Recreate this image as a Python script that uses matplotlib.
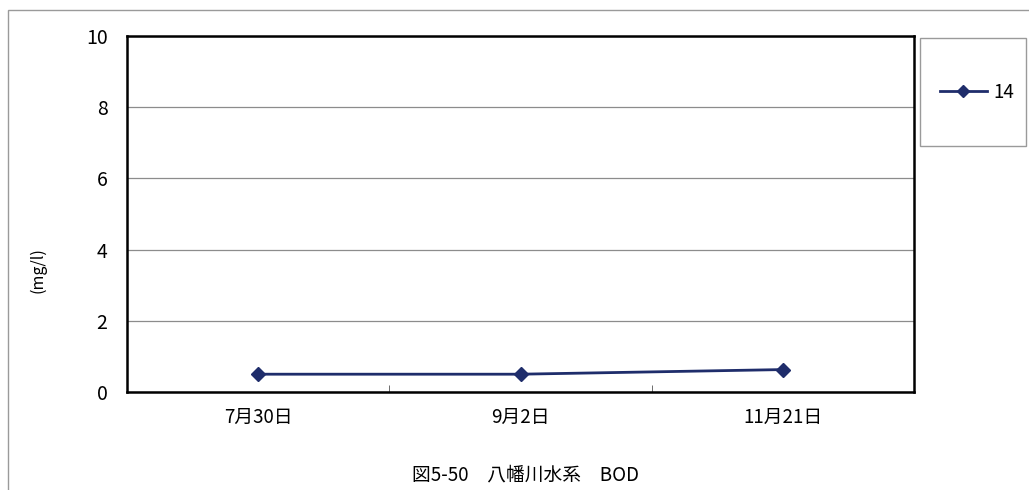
import matplotlib
matplotlib.use("Agg")
import matplotlib.pyplot as plt
from matplotlib.patches import Rectangle

plt.rcParams['font.family'] = ['Noto Sans CJK JP', 'DejaVu Sans']

categories = ["7月30日", "9月2日", "11月21日"]
series_name = "14"
values = [0.5, 0.5, 0.63]
yticks = [0, 2, 4, 6, 8, 10]
title = "図5-50\u3000八幡川水系\u3000BOD"
ylabel = "(mg/l)"

W, H = 1029, 490
fig = plt.figure(figsize=(W / 100, H / 100), dpi=100)
fig.patch.set_facecolor("white")

# outer frame
fig.add_artist(Rectangle((8 / W, -0.1), 1.2, 1 - 10 / H + 0.1, transform=fig.transFigure,
                         fill=False, edgecolor="#9a9a9a", linewidth=1.0))
# legend frame
fig.add_artist(Rectangle((920 / W, 1 - 146 / H), (1026 - 920) / W, 108 / H,
                         transform=fig.transFigure, fill=False,
                         edgecolor="#9a9a9a", linewidth=1.0))

ax = fig.add_axes([127 / W, 1 - 392 / H, (914 - 127) / W, (392 - 36) / H])
x = list(range(len(categories)))
ax.plot(x, values, color="#1f2d6b", linewidth=2, marker="D", markersize=7.5,
        markerfacecolor="#1f2d6b", markeredgecolor="#1f2d6b", label=series_name, zorder=3)

ax.set_xlim(-0.5, len(categories) - 0.5)
ax.set_ylim(0, 10)
ax.set_yticks(yticks)
ax.set_yticklabels([str(v) for v in yticks], fontsize=14)
ax.yaxis.grid(True, color="#8c8c8c", linewidth=0.9)
ax.set_axisbelow(True)
ax.tick_params(axis="y", length=0, pad=14)

ax.set_xticks(x)
ax.set_xticklabels(categories, fontsize=13.5)
ax.tick_params(axis="x", length=0, pad=11)
ax.set_xticks([0.5, 1.5], minor=True)
ax.tick_params(axis="x", which="minor", direction="in", length=5, color="#555555")

for s in ax.spines.values():
    s.set_linewidth(1.8)
    s.set_color("black")

fig.text(38 / W, 1 - 270 / H, ylabel, rotation=90, ha="center", va="center", fontsize=11.5)
fig.text(525 / W, 1 - 475 / H, title, ha="center", va="center", fontsize=13.5)

leg = fig.legend(loc="center left", bbox_to_anchor=(940 / W, 1 - 92 / H), fontsize=13.5,
                 frameon=False, handlelength=2.5, handletextpad=0.35,
                 borderpad=0, borderaxespad=0, markerscale=0.8)

fig.savefig("out.png", dpi=100)
